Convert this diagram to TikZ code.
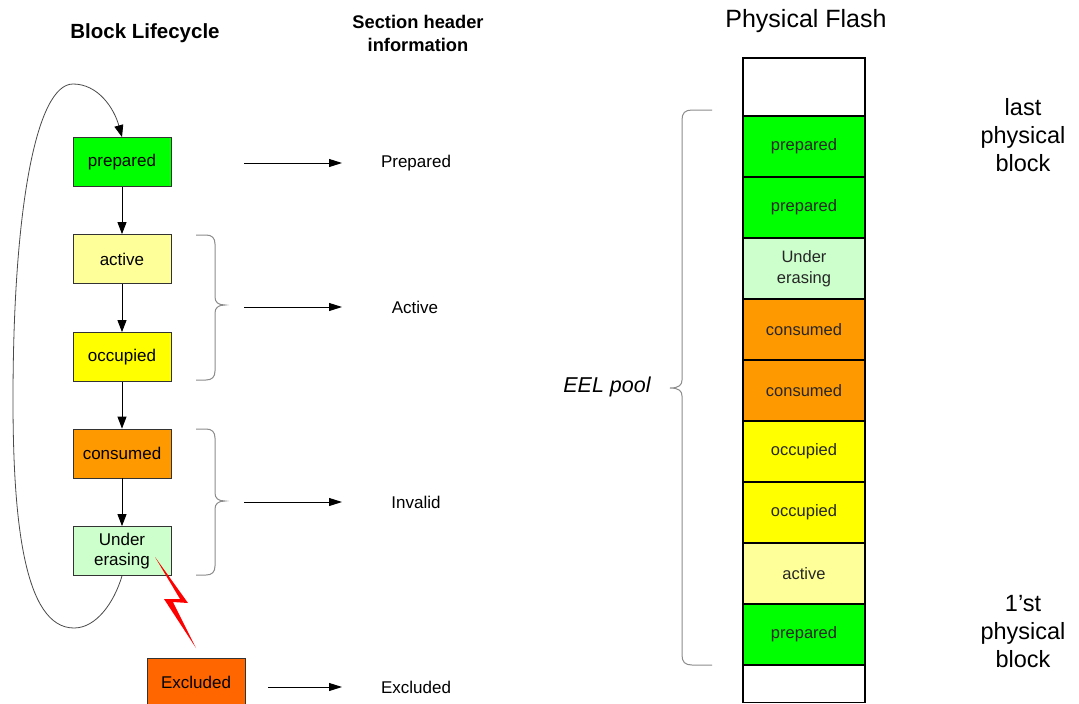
\documentclass[tikz,border=0pt]{standalone}
\usepackage{fontspec}
\setmainfont{Liberation Sans}
\usetikzlibrary{arrows.meta}
\definecolor{cprep}{HTML}{00FF00}
\definecolor{cact}{HTML}{FFFF99}
\definecolor{cocc}{HTML}{FFFF00}
\definecolor{ccons}{HTML}{FF9900}
\definecolor{cuer}{HTML}{CCFFCC}
\definecolor{cexcl}{HTML}{FF6600}
\definecolor{bracegray}{HTML}{8C8C8C}
\definecolor{loopgray}{HTML}{4A4A4A}
\begin{document}
\begin{tikzpicture}[x=1pt,y=-1pt,
  lbox/.style={draw=black!80, line width=0.8pt, minimum width=98pt, minimum height=49pt,
    inner sep=0pt, font=\fontsize{17}{20}\selectfont, align=center},
  fcell/.style={draw=black, line width=1.8pt, minimum width=122pt, minimum height=61pt,
    inner sep=0pt, font=\fontsize{16.5}{21}\selectfont, text=black!85, align=center},
  flow/.style={-{Triangle[length=12pt,width=9pt]}, line width=0.9pt},
  hflow/.style={-{Triangle[length=13pt,width=8pt]}, line width=0.9pt},
  lbl/.style={font=\fontsize{17}{20}\selectfont, inner sep=0pt},
  brc/.style={draw=bracegray, line width=1pt},
  hdr/.style={font=\bfseries\fontsize{18.3}{23}\selectfont, align=center, inner sep=0pt},
  side/.style={font=\fontsize{23.5}{28}\selectfont, align=center, inner sep=0pt}
]
\useasboundingbox[fill=white] (0,0) rectangle (1079,704);

% headers
\node[hdr, font=\bfseries\fontsize{20.5}{24}\selectfont] (h1) at (145,33) {Block Lifecycle};
\node[hdr] (h2) at (418,33) {Section header\\information};
\node[font=\fontsize{25}{30}\selectfont, inner sep=0pt] (h3) at (806,21) {Physical Flash};

% lifecycle boxes
\node[lbox, fill=cprep] (prep) at (122,162) {prepared};
\node[lbox, fill=cact] (act) at (122,259) {active};
\node[lbox, fill=cocc] (occ) at (122,357) {occupied};
\node[lbox, fill=ccons] (cons) at (122,453.5) {consumed};
\node[lbox, fill=cuer] (uer) at (122,551) {Under\\erasing};
\node[lbox, fill=cexcl] (excl) at (196,682.5) {Excluded};

\draw[flow] (prep) -- (act);
\draw[flow] (act) -- (occ);
\draw[flow] (occ) -- (cons);
\draw[flow] (cons) -- (uer);

% loop back
\draw[draw=loopgray, line width=0.8pt, -{Triangle[length=12pt,width=9pt,color=black]}]
  (uer.south) .. controls (114,603) and (96,628) .. (74,628)
  .. controls (24,628) and (13,520) .. (13,400)
  .. controls (13,210) and (36,84) .. (73,84)
  .. controls (98,84) and (114,108) .. (prep.north);

% lightning
\fill[red] (155,557) -- (188,603) -- (173,602) -- (196,648) -- (164,599) -- (180,599) -- cycle;

% braces
\draw[brc] (196,235) -- (206,235) .. controls (212,235) and (215,238) .. (215,244)
  -- (215,297) .. controls (215,302) and (218,305) .. (225,305)
  .. controls (218,305) and (215,308) .. (215,313)
  -- (215,371) .. controls (215,377) and (212,380) .. (206,380) -- (196,380);
\draw[brc] (196,429) -- (206,429) .. controls (212,429) and (215,432) .. (215,438)
  -- (215,493) .. controls (215,498) and (218,501) .. (225,501)
  .. controls (218,501) and (215,504) .. (215,509)
  -- (215,566) .. controls (215,572) and (212,575) .. (206,575) -- (196,575);

% section header labels
\node[lbl] (lp) at (416,163) {Prepared};
\node[lbl] (la) at (415,307) {Active};
\node[lbl] (li) at (416,502) {Invalid};
\node[lbl] (lx) at (416,687) {Excluded};

\coordinate (s1) at (244,163); \coordinate (e1) at (342,163);
\coordinate (s2) at (244,307); \coordinate (e2) at (342,307);
\coordinate (s3) at (244,502); \coordinate (e3) at (342,502);
\coordinate (s4) at (268,687); \coordinate (e4) at (342,687);
\draw[hflow] (s1) -- (e1);
\draw[hflow] (s2) -- (e2);
\draw[hflow] (s3) -- (e3);
\draw[hflow] (s4) -- (e4);

% physical flash column
\node[fcell, minimum height=58pt] (f0) at (804,87) {};
\node[fcell, fill=cprep] (f1) at (804,146.5) {prepared};
\node[fcell, fill=cprep] (f2) at (804,207.5) {prepared};
\node[fcell, fill=cuer] (f3) at (804,268.5) {Under\\erasing};
\node[fcell, fill=ccons] (f4) at (804,329.5) {consumed};
\node[fcell, fill=ccons] (f5) at (804,390.5) {consumed};
\node[fcell, fill=cocc] (f6) at (804,451.5) {occupied};
\node[fcell, fill=cocc] (f7) at (804,512.5) {occupied};
\node[fcell, fill=cact] (f8) at (804,573.5) {active};
\node[fcell, fill=cprep] (f9) at (804,634.5) {prepared};
\node[fcell, minimum height=37pt] (f10) at (804,684) {};

% EEL pool brace
\draw[brc] (712,110) -- (692,110) .. controls (685,110) and (682,113) .. (682,120)
  -- (682,380) .. controls (682,385) and (679,388) .. (670,388)
  .. controls (679,388) and (682,391) .. (682,396)
  -- (682,655) .. controls (682,662) and (685,665) .. (692,665) -- (712,665);
\node[font=\itshape\fontsize{21.5}{26}\selectfont, inner sep=0pt] (eel) at (607,387) {EEL pool};

% side labels
\node[side] (last) at (1023,135) {last\\physical\\block};
\node[side] (first) at (1023,632) {1’st\\physical\\block};
\end{tikzpicture}
\end{document}
